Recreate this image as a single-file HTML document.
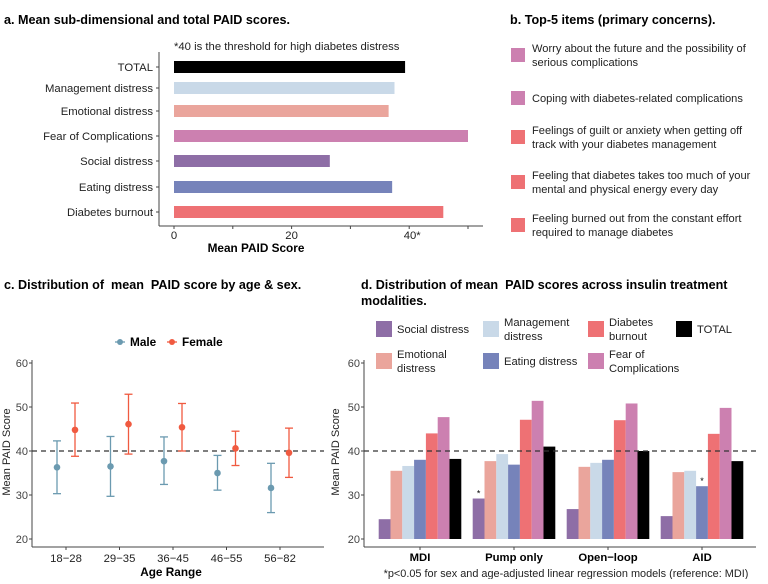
<!DOCTYPE html>
<html><head><meta charset="utf-8">
<style>
body{margin:0;background:#fff;width:768px;height:579px;overflow:hidden;font-family:"Liberation Sans",Arial,sans-serif;}
svg text{font-family:"Liberation Sans",Arial,sans-serif;white-space:pre;}
</style></head>
<body>
<svg id="fig" width="768" height="579" viewBox="0 0 768 579" xmlns="http://www.w3.org/2000/svg" xml:space="preserve">
<text x="4" y="24" font-size="12.6" font-weight="bold">a. Mean sub-dimensional and total PAID scores.</text>
<text x="174" y="50" font-size="11.3" fill="#222">*40 is the threshold for high diabetes distress</text>
<text x="510" y="24" font-size="12.6" font-weight="bold">b. Top-5 items (primary concerns).</text>
<text x="4" y="289" font-size="12.6" font-weight="bold">c. Distribution of  mean  PAID score by age &amp; sex.</text>
<text x="361" y="289" font-size="12.6" font-weight="bold">d. Distribution of mean  PAID scores across insulin treatment</text>
<text x="361" y="305" font-size="12.6" font-weight="bold">modalities.</text>
<g id="ga"></g>
<g id="gb"></g>
<g id="gc"></g>
<g id="gd"></g>
<text x="566" y="577" font-size="10.9" text-anchor="middle" fill="#222">*p&lt;0.05 for sex and age-adjusted linear regression models (reference: MDI)</text>
</svg>
<script>
// Panel a data
const aCategories = ["TOTAL","Management distress","Emotional distress","Fear of Complications","Social distress","Eating distress","Diabetes burnout"];
const aValues = [39.3, 37.5, 36.5, 50.0, 26.5, 37.1, 45.8];
const aTicks = [0, 20, 40];
const aTickLabels = ["0","20","40*"];
// Panel b data
const bItems = [["Worry about the future and the possibility of","serious complications"],["Coping with diabetes-related complications"],["Feelings of guilt or anxiety when getting off","track with your diabetes management"],["Feeling that diabetes takes too much of your","mental and physical energy every day"],["Feeling burned out from the constant effort","required to manage diabetes"]];
const bColors = ["#cc80b0","#cc80b0","#ee7174","#ee7174","#ee7174"];
// Panel c data
const cCategories = ["18−28","29−35","36−45","46−55","56−82"];
const cMaleMean = [36.3, 36.5, 37.7, 35.0, 31.6];
const cMaleLo = [30.3, 29.7, 32.4, 31.1, 26.0];
const cMaleHi = [42.3, 43.3, 43.2, 39.0, 37.2];
const cFemaleMean = [44.8, 46.1, 45.4, 40.6, 39.6];
const cFemaleLo = [38.8, 39.3, 40.0, 36.7, 34.0];
const cFemaleHi = [50.9, 52.9, 50.8, 44.5, 45.2];
const yTicks = [20, 30, 40, 50, 60];
// Panel d data
const dGroups = ["MDI","Pump only","Open−loop","AID"];
const dSeries = ["Social distress","Emotional distress","Management distress","Eating distress","Diabetes burnout","Fear of Complications","TOTAL"];
const dSocial = [24.5, 29.2, 26.8, 25.2];
const dEmotional = [35.5, 37.7, 36.4, 35.2];
const dManagement = [36.6, 39.3, 37.3, 35.5];
const dEating = [38.0, 36.9, 38.0, 32.0];
const dBurnout = [44.0, 47.1, 47.0, 43.9];
const dFear = [47.7, 51.4, 50.8, 49.8];
const dTotal = [38.2, 41.0, 40.0, 37.7];
const dSig = [[0,1],[3,3]]; // [seriesIndex, groupIndex] pairs

const NS="http://www.w3.org/2000/svg";
function mk(parent,tag,attrs,text){const e=document.createElementNS(NS,tag);for(const k in attrs)e.setAttribute(k,attrs[k]);if(text!==undefined)e.textContent=text;parent.appendChild(e);return e;}

// ---- Panel a
const ga=document.getElementById('ga');
const axA=v=>174+v*5.88;
const aY=[67,88,111,136,161,187,212];
const aColors=["#000000","#c9d9e8","#eaa59c","#cc80b0","#8e6ea6","#7683ba","#ee7174"];
mk(ga,'line',{x1:159,y1:52,x2:159,y2:226,stroke:'#444','stroke-width':1});
mk(ga,'line',{x1:159,y1:226,x2:483,y2:226,stroke:'#444','stroke-width':1});
aCategories.forEach((c,i)=>{
  const y=aY[i];
  const r=mk(ga,'rect',{x:axA(0),y:y-6,width:axA(aValues[i])-axA(0),height:12,fill:aColors[i]});
  
  
  mk(ga,'line',{x1:156,y1:y,x2:159,y2:y,stroke:'#444'});
  const t=mk(ga,'text',{x:153,y:y+4,'font-size':11.3,'text-anchor':'end',fill:'#222'},c);
  
  
});
[0,10,20,30,40,50].forEach(v=>mk(ga,'line',{x1:axA(v),y1:226,x2:axA(v),y2:229,stroke:'#444'}));
aTicks.forEach((v,i)=>{
  const t=mk(ga,'text',{x:axA(v)+(i==2?3:0),y:239,'font-size':11.3,'text-anchor':'middle',fill:'#222'},aTickLabels[i]);
  
  
});
const at=mk(ga,'text',{x:256,y:252,'font-size':11.8,'font-weight':'bold','text-anchor':'middle'},'Mean PAID Score');



// ---- Panel b
const gb=document.getElementById('gb');
const bY=[55,98,137,182,225];
bItems.forEach((lines,i)=>{
  const cy=bY[i];
  const s=mk(gb,'rect',{x:511,y:cy-7,width:14,height:14,fill:bColors[i]});
  
  
  const off=lines.length==2?-7:0;
  lines.forEach((l,j)=>{
    const t=mk(gb,'text',{x:532,y:cy+off+j*14+4,'font-size':11.1,fill:'#222'},l);
    
    
  });
});

// ---- shared y axis
const yv=v=>539-(v-20)*4.4;

// ---- Panel c
const gc=document.getElementById('gc');
const cx=i=>66+i*53.5;
mk(gc,'line',{x1:32,y1:360,x2:32,y2:547,stroke:'#444'});
mk(gc,'line',{x1:32,y1:547,x2:324,y2:547,stroke:'#444'});
yTicks.forEach(v=>{
  mk(gc,'line',{x1:29,y1:yv(v),x2:32,y2:yv(v),stroke:'#444'});
  const t=mk(gc,'text',{x:28,y:yv(v)+4,'font-size':11,'text-anchor':'end',fill:'#444'},v);
  
  
});
mk(gc,'line',{x1:32,y1:yv(40),x2:324,y2:yv(40),stroke:'#333','stroke-dasharray':'5,4','stroke-width':1.3});
cCategories.forEach((c,i)=>{
  mk(gc,'line',{x1:cx(i),y1:547,x2:cx(i),y2:550,stroke:'#444'});
  const t=mk(gc,'text',{x:cx(i),y:562,'font-size':11.3,'text-anchor':'middle',fill:'#222'},c);
  
  
  [[cMaleMean,cMaleLo,cMaleHi,-9,'#6b9ab0','male'],[cFemaleMean,cFemaleLo,cFemaleHi,9,'#f05a40','female']].forEach(s=>{
    const x=cx(i)+s[3];
    const g=mk(gc,'g',{stroke:s[4],'stroke-width':1.3});
    
    
    mk(g,'line',{x1:x,y1:yv(s[1][i]),x2:x,y2:yv(s[2][i])});
    mk(g,'line',{x1:x-4,y1:yv(s[1][i]),x2:x+4,y2:yv(s[1][i])});
    mk(g,'line',{x1:x-4,y1:yv(s[2][i]),x2:x+4,y2:yv(s[2][i])});
    const p=mk(gc,'circle',{cx:x,cy:yv(s[0][i]),r:3.3,fill:s[4]});
    
    
  });
});
const ct=mk(gc,'text',{x:171,y:576,'font-size':11.8,'font-weight':'bold','text-anchor':'middle'},'Age Range');


const cyt=mk(gc,'text',{x:10,y:452,'font-size':11,'text-anchor':'middle',transform:'rotate(-90 10 452)',fill:'#222'},'Mean PAID Score');


[['Male','#6b9ab0',120],['Female','#f05a40',172]].forEach(l=>{
  const g=mk(gc,'g',{});
  
  
  mk(g,'line',{x1:l[2]-5,y1:342,x2:l[2]+5,y2:342,stroke:l[1],'stroke-width':1.3});
  mk(g,'circle',{cx:l[2],cy:342,r:3,fill:l[1]});
  mk(g,'text',{x:l[2]+10,y:346,'font-size':11.8,'font-weight':'bold'},l[0]);
});

// ---- Panel d
const gd=document.getElementById('gd');
const dVals=[dSocial,dEmotional,dManagement,dEating,dBurnout,dFear,dTotal];
const dColors=["#8e6ea6","#eaa59c","#c9d9e8","#7683ba","#ee7174","#cc80b0","#000000"];
const gx=i=>420+i*94;
const bw=11.8;
mk(gd,'line',{x1:364,y1:360,x2:364,y2:547,stroke:'#444'});
mk(gd,'line',{x1:364,y1:547,x2:756,y2:547,stroke:'#444'});
yTicks.forEach(v=>{
  mk(gd,'line',{x1:361,y1:yv(v),x2:364,y2:yv(v),stroke:'#444'});
  const t=mk(gd,'text',{x:360,y:yv(v)+4,'font-size':11,'text-anchor':'end',fill:'#444'},v);
  
  
});
dGroups.forEach((g,gi)=>{
  dVals.forEach((arr,si)=>{
    const x=gx(gi)-3.5*bw+si*bw;
    const r=mk(gd,'rect',{x:x,y:yv(arr[gi]),width:bw,height:yv(20)-yv(arr[gi]),fill:dColors[si]});
    
    
  });
  mk(gd,'line',{x1:gx(gi),y1:547,x2:gx(gi),y2:550,stroke:'#444'});
  const t=mk(gd,'text',{x:gx(gi),y:561,'font-size':11.3,'font-weight':'bold','text-anchor':'middle'},g);
  
  
});
dSig.forEach(p=>{
  const x=gx(p[1])-3.5*bw+p[0]*bw+bw/2;
  const t=mk(gd,'text',{x:x,y:yv(dVals[p[0]][p[1]])-2,'font-size':9,'text-anchor':'middle'},'*');
  
  
});
mk(gd,'line',{x1:364,y1:yv(40),x2:756,y2:yv(40),stroke:'#333','stroke-dasharray':'5,4','stroke-width':1.3});
const dyt=mk(gd,'text',{x:339,y:452,'font-size':11,'text-anchor':'middle',transform:'rotate(-90 339 452)',fill:'#222'},'Mean PAID Score');


const legPos=[[0,0],[0,1],[1,0],[1,1],[2,0],[2,1],[3,0]];
const legLabels=[["Social distress"],["Emotional","distress"],["Management","distress"],["Eating distress"],["Diabetes","burnout"],["Fear of","Complications"],["TOTAL"]];
const colX=[376,483,588,676];
const rowY=[329,361];
legPos.forEach((p,i)=>{
  const g=mk(gd,'g',{});
  
  
  const x=colX[p[0]],y=rowY[p[1]];
  mk(g,'rect',{x:x,y:y-8,width:16,height:16,fill:dColors[i]});
  const L=legLabels[i];
  L.forEach((l,j)=>mk(g,'text',{x:x+21,y:y+4+(L.length==2?(j*14-7):0),'font-size':11.2,fill:'#222'},l));
});
</script>
</body></html>
